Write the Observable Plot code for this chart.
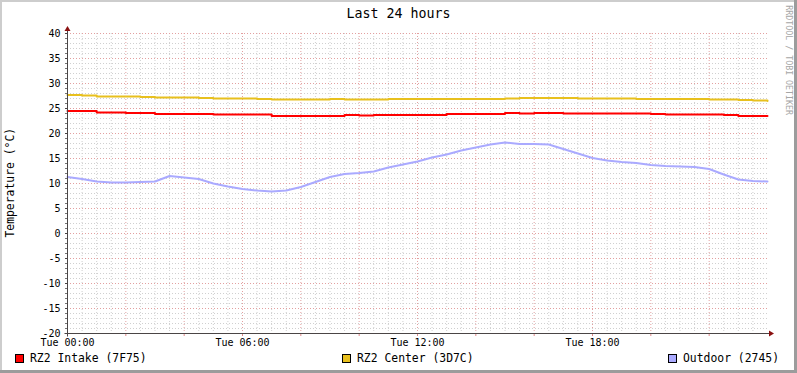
<!DOCTYPE html>
<html>
<head>
<meta charset="utf-8">
<script src="https://cdn.jsdelivr.net/npm/d3@7"></script>
<script src="https://cdn.jsdelivr.net/npm/@observablehq/plot@0.6"></script>
<style>
html,body{margin:0;padding:0;background:#fff;}
#wrap{position:relative;width:797px;height:373px;overflow:hidden;background:#fff;font-family:"DejaVu Sans Mono",monospace;color:#000;}
#wrap > svg{position:absolute;left:0;top:0;}
.b{position:absolute;}
.t{position:absolute;white-space:nowrap;line-height:1;}
.sw{position:absolute;width:7px;height:7px;border:1px solid #000;}
</style>
</head>
<body>
<div id="wrap"></div>
<script>
// ---- data ----
const hours = [0,0.5,1,1.5,2,2.5,3,3.5,4,4.5,5,5.5,6,6.5,7,7.5,8,8.5,9,9.5,10,10.5,11,11.5,12,12.5,13,13.5,14,14.5,15,15.5,16,16.5,17,17.5,18,18.5,19,19.5,20,20.5,21,21.5,22,22.5,23,23.5,24];
const intake = [24.5,24.5,24.2,24.2,24.1,24.1,23.9,23.9,23.9,23.9,23.8,23.8,23.8,23.8,23.5,23.5,23.5,23.5,23.5,23.7,23.6,23.7,23.7,23.7,23.7,23.7,23.9,23.9,23.9,23.9,24.1,24.0,24.1,24.1,24.0,24.0,24.0,24.0,24.0,24.0,23.9,23.8,23.8,23.8,23.8,23.7,23.5,23.5,23.5];
const center = [27.7,27.6,27.4,27.4,27.4,27.3,27.2,27.2,27.2,27.1,27.0,27.0,27.0,26.9,26.8,26.8,26.8,26.8,26.9,26.8,26.8,26.8,26.9,26.9,26.9,26.9,26.9,26.9,26.9,26.9,27.0,27.1,27.1,27.1,27.1,27.0,27.0,27.0,27.0,26.9,26.9,26.9,26.9,26.9,26.8,26.8,26.7,26.6,26.5];
const outdoor = [11.3,10.9,10.4,10.2,10.2,10.3,10.4,11.5,11.2,10.9,10.0,9.4,8.9,8.6,8.4,8.6,9.3,10.3,11.3,11.9,12.1,12.4,13.2,13.8,14.4,15.2,15.8,16.6,17.2,17.8,18.2,17.9,17.9,17.8,16.9,16.0,15.1,14.6,14.3,14.1,13.7,13.5,13.4,13.3,12.9,11.8,10.8,10.5,10.4];
const yTicks = [-20,-15,-10,-5,0,5,10,15,20,25,30,35,40];
const xTickHours = [0,6,12,18];
const xTickLabels = ["Tue 00:00","Tue 06:00","Tue 12:00","Tue 18:00"];
const seriesNames = ["RZ2 Intake (7F75)","RZ2 Center (3D7C)","Outdoor (2745)"];
const seriesColors = ["#FF0000","#E8C01E","#AAAAFF"];
const titleText = "Last 24 hours";
const yLabelText = "Temperature (°C)";
const watermarkText = "RRDTOOL / TOBI OETIKER";

// ---- chart ----
const wrap = document.getElementById("wrap");
const rows = hours.map((h, i) => ({h, intake: intake[i], center: center[i], outdoor: outdoor[i]}));
const minorY = d3.range(-20, 41, 1).filter(v => v % 5 !== 0);
const minorX = d3.range(0, 24, 0.5).filter(v => v % 2 !== 0);
const majorX = d3.range(2, 24, 2);
const minorCol = "#d0d0d0", majorCol = "#e3a0a0", axisCol = "#4a4545";

const chart = Plot.plot({
  width: 797, height: 373,
  marginLeft: 67, marginRight: 30, marginTop: 33, marginBottom: 40,
  x: {domain: [0, 24], axis: null, label: null},
  y: {domain: [-20, 40], axis: null, label: null},
  style: {fontFamily: "'DejaVu Sans Mono', monospace", fontSize: "10px", background: "transparent", color: "#000", overflow: "visible"},
  marks: [
    Plot.ruleY(minorY, {stroke: minorCol, strokeDasharray: "1,2"}),
    Plot.ruleX(minorX, {stroke: minorCol, strokeDasharray: "1,2"}),
    Plot.ruleY(yTicks, {stroke: majorCol, strokeDasharray: "1,2"}),
    Plot.ruleX(majorX, {stroke: majorCol, strokeDasharray: "1,2"}),
    Plot.line(rows, {x: "h", y: "outdoor", stroke: seriesColors[2], strokeWidth: 2, curve: "linear"}),
    Plot.line(rows, {x: "h", y: "center", stroke: seriesColors[1], strokeWidth: 2, curve: "step-after"}),
    Plot.line(rows, {x: "h", y: "intake", stroke: seriesColors[0], strokeWidth: 2, curve: "step-after"}),
    Plot.axisY({ticks: d3.range(-20, 41, 1), tickSize: 2, text: null, label: null, stroke: "#777"}),
    Plot.axisY({ticks: yTicks, tickSize: 2, tickPadding: 5, label: null, tickFormat: d => String(d), stroke: axisCol}),
    Plot.axisX({ticks: majorX, tickSize: 3, text: null, label: null, stroke: "#e08888"}),
    Plot.axisX({ticks: xTickHours, tickSize: 0, tickPadding: 5, label: null, tickFormat: d => xTickLabels[xTickHours.indexOf(d)]})
  ]
});
wrap.appendChild(chart);

// axis lines and arrows derived from scales
const sx = chart.scale("x"), sy = chart.scale("y");
const svg = d3.select(chart);
const x0 = sx.apply(0) + 0.5, x1 = sx.apply(24), y0 = sy.apply(-20) + 0.5, y1 = sy.apply(40);
svg.append("line").attr("x1", x0 - 3).attr("x2", x1 + 2).attr("y1", y0).attr("y2", y0).attr("stroke", axisCol);
svg.append("line").attr("x1", x0).attr("x2", x0).attr("y1", y0 + 3).attr("y2", y1 - 2).attr("stroke", axisCol);
svg.append("path").attr("d", `M${x1 + 2},${y0 - 3}L${x1 + 7},${y0}L${x1 + 2},${y0 + 3}Z`).attr("fill", "#8a1010");
svg.append("path").attr("d", `M${x0 - 3},${y1 - 2}L${x0},${y1 - 7}L${x0 + 3},${y1 - 2}Z`).attr("fill", "#8a1010");

// ---- html text ----
function addDiv(cls, css, text) {
  const d = document.createElement("div");
  d.className = cls;
  Object.assign(d.style, css);
  if (text != null) d.textContent = text;
  wrap.appendChild(d);
  return d;
}
addDiv("t", {left: "0px", width: "797px", textAlign: "center", top: "6.8px", fontSize: "13.3px"}, titleText);
addDiv("t", {left: "-89px", width: "200px", textAlign: "center", top: "177.3px", fontSize: "11.4px", transform: "rotate(-90deg)"}, yLabelText);
addDiv("t", {left: "728.5px", width: "120px", textAlign: "center", top: "55.8px", fontSize: "8.3px", color: "#a6a6a6", transform: "rotate(90deg)"}, watermarkText);

const swX = [15, 342, 668], txX = [30, 357, 683];
seriesNames.forEach((name, i) => {
  addDiv("sw", {left: swX[i] + "px", top: "354px", background: seriesColors[i]});
  addDiv("t", {left: txX[i] + "px", top: "352.9px", fontSize: "11.4px"}, name);
});

// borders
addDiv("b", {left: "0px", top: "0px", width: "797px", height: "2px", background: "#cdcdcd"});
addDiv("b", {left: "0px", top: "0px", width: "2px", height: "373px", background: "#cdcdcd"});
addDiv("b", {left: "794px", top: "0px", width: "3px", height: "373px", background: "#9c9c9c"});
addDiv("b", {left: "0px", top: "370px", width: "797px", height: "3px", background: "#9c9c9c"});
</script>
</body>
</html>
